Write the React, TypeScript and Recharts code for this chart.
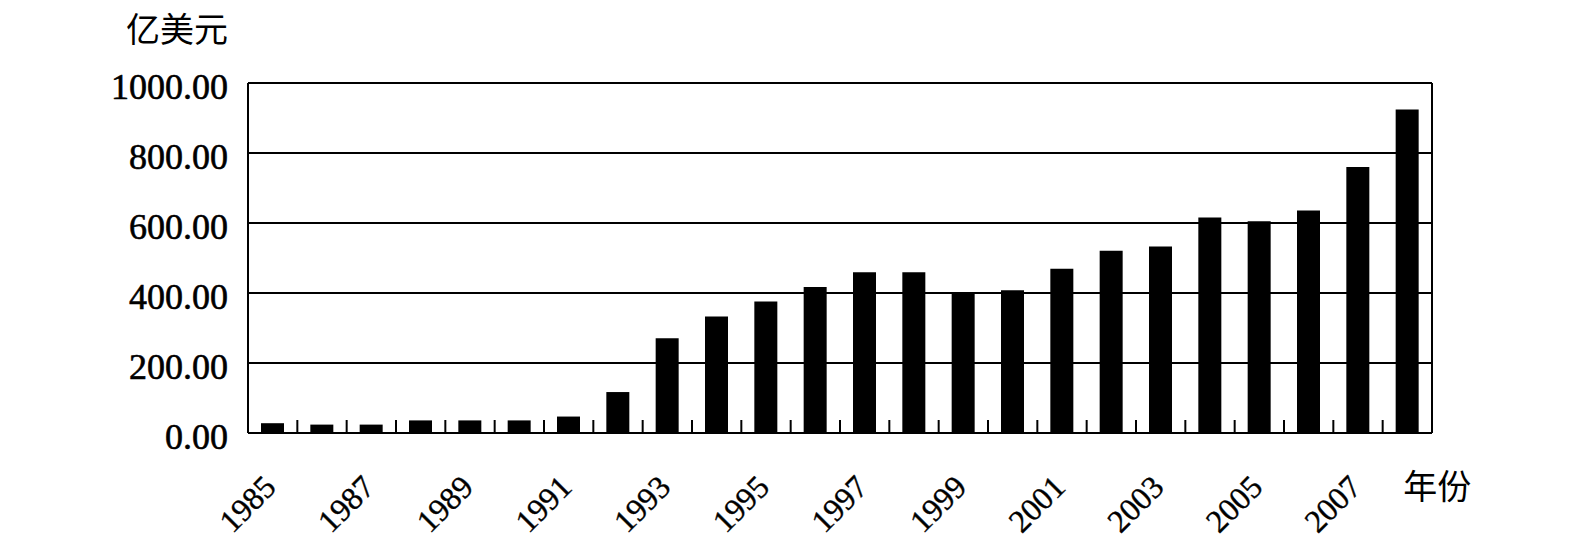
import React from 'react';
import { BarChart, Bar, XAxis, YAxis, CartesianGrid, Label } from 'recharts';

const years = [
  '1985', '1986', '1987', '1988', '1989', '1990', '1991', '1992',
  '1993', '1994', '1995', '1996', '1997', '1998', '1999', '2000',
  '2001', '2002', '2003', '2004', '2005', '2006', '2007', '2008',
];
const values = [
  28, 24, 24, 36, 36, 36, 47, 117,
  271, 333, 376, 417, 459, 459, 398, 408,
  469, 521, 533, 616, 605, 636, 760, 924,
];
const yTicks = [0, 200, 400, 600, 800, 1000];
const labeledYears = ['1985', '1987', '1989', '1991', '1993', '1995', '1997', '1999', '2001', '2003', '2005', '2007'];
const unitLabel = '亿美元';
const lastLabel = '年份';

const data = years.map((year, i) => ({ year, value: values[i] }));

const SERIF = '"Liberation Serif", "Times New Roman", serif';
const CJK = '"Noto Sans CJK SC", sans-serif';

const CatTick = (props: any) => {
  const { x, y, payload } = props;
  const v = payload.value;
  const half = payload.offset || 0;
  const isLast = v === years[years.length - 1];
  const boundary = !isLast ? (
    <line x1={x + half} x2={x + half} y1={y} y2={y - 13} stroke="#000" strokeWidth={2} />
  ) : null;
  let label = null;
  if (isLast) {
    label = (
      <text x={x + 30} y={y + 66} textAnchor="middle" fontFamily={CJK} fontSize={34} fill="#000">
        {lastLabel}
      </text>
    );
  } else if (labeledYears.includes(v)) {
    const ax = x + 5;
    const ay = y + 56;
    label = (
      <text
        x={ax}
        y={ay}
        textAnchor="end"
        transform={`rotate(-45, ${ax}, ${ay})`}
        fontFamily={SERIF}
        fontSize={32}
        fill="#000"
        stroke="#000"
        strokeWidth={0.4}
      >
        {v}
      </text>
    );
  }
  return (
    <g>
      {boundary}
      {label}
    </g>
  );
};

const YTick = (props: any) => {
  const { x, y, payload } = props;
  return (
    <text
      x={x - 20}
      y={y + 16}
      textAnchor="end"
      fontFamily={SERIF}
      fontSize={36}
      fill="#000"
      stroke="#000"
      strokeWidth={0.6}
    >
      {Number(payload.value).toFixed(2)}
    </text>
  );
};

const UnitLabel = (props: any) => {
  const { viewBox } = props;
  return (
    <text
      x={viewBox.x + viewBox.width - 20}
      y={viewBox.y - 41}
      textAnchor="end"
      fontFamily={CJK}
      fontSize={34}
      fill="#000"
    >
      {unitLabel}
    </text>
  );
};

export default function App() {
  return (
    <div style={{ position: 'absolute', left: 0, top: 0, width: 1571, height: 546, background: '#fff' }}>
      <BarChart
        width={1571}
        height={546}
        data={data}
        margin={{ top: 83, right: 139, left: 0, bottom: 0 }}
      >
        <CartesianGrid
          stroke="#000"
          strokeWidth={2}
          verticalCoordinatesGenerator={(p: any) => [p.offset.left, p.offset.left + p.offset.width]}
        />
        <XAxis
          dataKey="year"
          height={113}
          interval={0}
          tickLine={false}
          tickSize={0}
          tickMargin={0}
          axisLine={{ stroke: '#000', strokeWidth: 2 }}
          tick={<CatTick />}
        />
        <YAxis
          width={248}
          domain={[0, 1000]}
          ticks={yTicks}
          interval={0}
          tickLine={false}
          tickSize={0}
          tickMargin={0}
          axisLine={{ stroke: '#000', strokeWidth: 2 }}
          tick={<YTick />}
        >
          <Label content={<UnitLabel />} />
        </YAxis>
        <Bar
          dataKey="value"
          fill="#000"
          barSize={23}
          isAnimationActive={false}
        />
      </BarChart>
    </div>
  );
}
